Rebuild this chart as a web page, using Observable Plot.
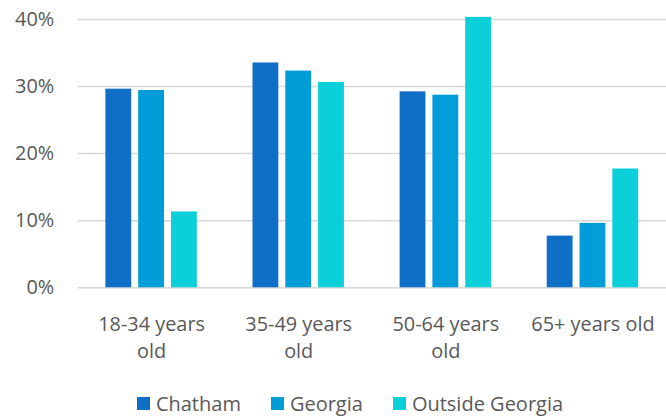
<!DOCTYPE html>
<html>
<head>
<meta charset="utf-8">
<script src="https://cdn.jsdelivr.net/npm/d3@7"></script>
<script src="https://cdn.jsdelivr.net/npm/@observablehq/plot@0.6"></script>
<style>
  html, body { margin: 0; padding: 0; background: #fff; }
  body { width: 666px; height: 418px; overflow: hidden; font-family: "Open Sans", sans-serif; }
  #chart { width: 666px; overflow: hidden; height: 375px; }
  #legend { display: flex; justify-content: center; height: 43px; box-sizing: border-box; padding-top: 14px; padding-left: 34px; font-size: 20px; line-height: 27px; color: #595959; }
  .item { display: flex; align-items: center; margin: 0 15px; }
  .sw { width: 13px; height: 13px; margin-right: 6px; }
</style>
</head>
<body>
<div id="chart"></div>
<div id="legend"></div>
<script>
const ageGroups = ["18-34 years old", "35-49 years old", "50-64 years old", "65+ years old"];
const seriesNames = ["Chatham", "Georgia", "Outside Georgia"];
const chatham = [0.296, 0.335, 0.292, 0.077];
const georgia = [0.294, 0.323, 0.287, 0.096];
const outsideGeorgia = [0.113, 0.306, 0.403, 0.177];
const yTicks = [0, 0.1, 0.2, 0.3, 0.4];
const colors = ["#0F6FC6", "#009DD9", "#0BD0D9"];

const seriesValues = [chatham, georgia, outsideGeorgia];
const data = [];
ageGroups.forEach((g, i) => {
  seriesNames.forEach((s, j) => data.push({group: g, series: s, value: seriesValues[j][i]}));
});

const chart = Plot.plot({
  width: 670,
  height: 375,
  marginLeft: 77,
  marginRight: 0,
  marginTop: 19,
  marginBottom: 86,
  style: {fontFamily: "'Open Sans', sans-serif", fontSize: "20px", color: "#595959", background: "#fff"},
  fx: {domain: ageGroups, padding: 0, label: null},
  x: {domain: seriesNames, paddingInner: 0.2, paddingOuter: 0.82, axis: null},
  y: {domain: [0, 0.4], label: null},
  color: {domain: seriesNames, range: colors},
  marks: [
    Plot.gridY(yTicks, {stroke: "#d9d9d9", strokeOpacity: 1, strokeWidth: 1.5}),
    Plot.axisY(yTicks, {tickFormat: d => Math.round(d * 100) + "%", tickSize: 0, tickPadding: 24, fill: "#595959", fontSize: 20}),
    Plot.axisFx({anchor: "bottom", tickSize: 0, tickPadding: 24, lineHeight: 1.35, fontSize: 20, fill: "#595959",
      tickFormat: d => d.startsWith("65") ? d : d.replace(/ old$/, "\nold")}),
    Plot.barY(data, {fx: "group", x: "series", y: "value", fill: "series"})
  ]
});
document.getElementById("chart").appendChild(chart);

const legend = document.getElementById("legend");
seriesNames.forEach((s, i) => {
  const it = document.createElement("div");
  it.className = "item";
  it.innerHTML = `<span class="sw" style="background:${colors[i]}"></span><span>${s}</span>`;
  legend.appendChild(it);
});
</script>
</body>
</html>
